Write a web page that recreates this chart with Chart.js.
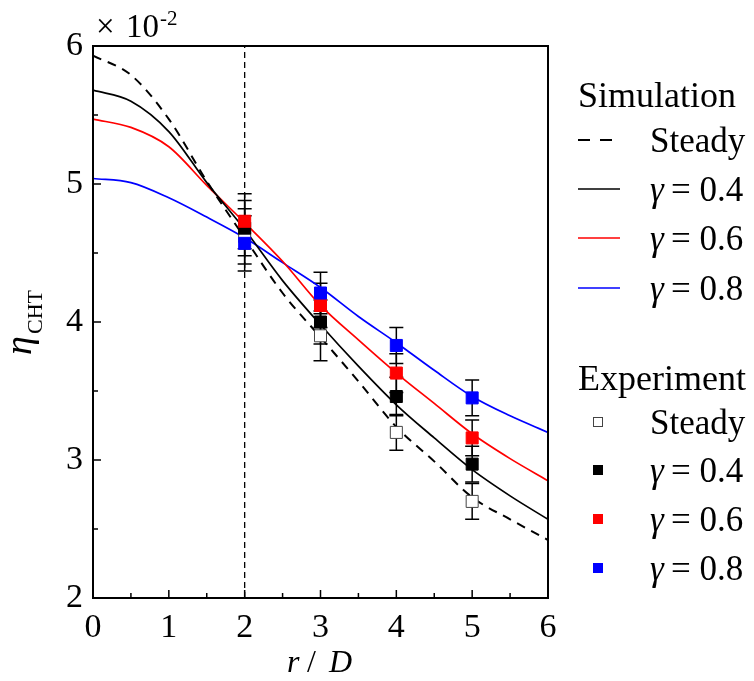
<!DOCTYPE html>
<html>
<head>
<meta charset="utf-8">
<script src="https://cdn.jsdelivr.net/npm/chart.js@4.4.0/dist/chart.umd.min.js"></script>
<style>
  body { margin: 0; background: #fff; }
  #wrap { width: 754px; height: 681px; }
</style>
</head>
<body>
<div id="wrap"><canvas id="chart" width="754" height="681"></canvas></div>
<script>
// simulated profiles along r/D
const radius = [0, 0.5, 1, 1.5, 2, 2.5, 3, 3.5, 4, 4.5, 5, 5.5, 6];
const simSteady = [5.93, 5.79, 5.47, 5.02, 4.61, 4.21, 3.89, 3.57, 3.24, 2.99, 2.73, 2.57, 2.42];
const simG04 = [5.68, 5.60, 5.38, 5.01, 4.67, 4.30, 3.98, 3.68, 3.40, 3.16, 2.93, 2.74, 2.57];
const simG06 = [5.47, 5.41, 5.27, 4.99, 4.72, 4.44, 4.12, 3.87, 3.63, 3.41, 3.19, 3.01, 2.85];
const simG08 = [5.04, 5.01, 4.90, 4.76, 4.61, 4.43, 4.25, 4.04, 3.85, 3.65, 3.46, 3.32, 3.20];

// measurements with error half-widths
const expRadius = [2, 3, 4, 5];
const expSteady = [4.62, 3.90, 3.20, 2.70];
const expG04 = [4.68, 4.00, 3.46, 2.97];
const expG06 = [4.73, 4.12, 3.63, 3.16];
const expG08 = [4.57, 4.21, 3.83, 3.45];
const errSteady = [0.20, 0.18, 0.13, 0.13];
const errG04 = [0.20, 0.16, 0.14, 0.13];
const errG06 = [0.20, 0.16, 0.14, 0.13];
const errG08 = [0.20, 0.15, 0.13, 0.13];

const markLine = [2, 2]; // x of the dashed marker line
const markSpan = [2, 6];

const xTicks = [0, 1, 2, 3, 4, 5, 6];
const yTicks = [2, 3, 4, 5, 6];

const serif = "'Liberation Serif', 'Times New Roman', serif";

function pts(xs, ys) {
  return xs.map((x, i) => ({ x: x, y: ys[i] }));
}

function simSet(label, ys, color, dash) {
  return {
    type: 'line', label: label, data: pts(radius, ys),
    borderColor: color, borderWidth: dash ? 2 : 1.7, borderDash: dash || [],
    pointRadius: 0, cubicInterpolationMode: 'monotone', fill: false, order: 5
  };
}

function expSet(label, ys, errs, fill, stroke) {
  return {
    type: 'scatter', label: label, data: pts(expRadius, ys), errors: errs,
    pointStyle: 'rect', pointRadius: 8.5, pointHoverRadius: 8.5,
    backgroundColor: fill, borderColor: stroke, borderWidth: 1, order: 1
  };
}

const datasets = [
  {
    type: 'line', label: 'marker', data: pts(markLine, markSpan),
    borderColor: '#000', borderWidth: 1.3, borderDash: [6, 4], pointRadius: 0, order: 6
  },
  simSet('Steady', simSteady, '#000', [9, 7]),
  simSet('γ = 0.4', simG04, '#000'),
  simSet('γ = 0.6', simG06, '#ff0000'),
  simSet('γ = 0.8', simG08, '#0000ff'),
  expSet('Steady', expSteady, errSteady, '#fff', '#444'),
  expSet('γ = 0.4', expG04, errG04, '#000', '#000'),
  expSet('γ = 0.6', expG06, errG06, '#ff0000', '#ff0000'),
  expSet('γ = 0.8', expG08, errG08, '#0000ff', '#0000ff')
];
// markers later in the list sit on top
datasets[5].order = 4; datasets[6].order = 3; datasets[7].order = 2; datasets[8].order = 1;

// error bars behind the square markers
const errorBars = {
  id: 'errorBars',
  beforeDatasetsDraw(chart) {
    const ctx = chart.ctx, xs = chart.scales.x, ys = chart.scales.y;
    ctx.save();
    ctx.strokeStyle = '#000';
    ctx.lineWidth = 1.5;
    chart.data.datasets.forEach(ds => {
      if (!ds.errors) return;
      ds.data.forEach((p, i) => {
        const px = xs.getPixelForValue(p.x);
        const top = ys.getPixelForValue(p.y + ds.errors[i]);
        const bot = ys.getPixelForValue(p.y - ds.errors[i]);
        ctx.beginPath();
        ctx.moveTo(px, top); ctx.lineTo(px, bot);
        ctx.moveTo(px - 7, top); ctx.lineTo(px + 7, top);
        ctx.moveTo(px - 7, bot); ctx.lineTo(px + 7, bot);
        ctx.stroke();
      });
    });
    ctx.restore();
  }
};

// frame, inward ticks, axis titles and grouped legend
const decorations = {
  id: 'decorations',
  afterDraw(chart) {
    const ctx = chart.ctx, a = chart.chartArea;
    const xs = chart.scales.x, ys = chart.scales.y;
    ctx.save();
    ctx.strokeStyle = '#000';
    ctx.lineWidth = 2;
    ctx.strokeRect(a.left, a.top, a.right - a.left, a.bottom - a.top);

    ctx.lineWidth = 1.5;
    ctx.beginPath();
    for (let v = xs.min; v <= xs.max + 1e-9; v += 0.5) {
      const px = xs.getPixelForValue(v), len = Number.isInteger(v) ? 8 : 5;
      ctx.moveTo(px, a.bottom); ctx.lineTo(px, a.bottom - len);
    }
    for (let v = ys.min; v <= ys.max + 1e-9; v += 0.5) {
      const py = ys.getPixelForValue(v), len = Number.isInteger(v) ? 8 : 5;
      ctx.moveTo(a.left, py); ctx.lineTo(a.left + len, py);
    }
    ctx.stroke();

    ctx.fillStyle = '#000';
    ctx.textBaseline = 'alphabetic';
    ctx.textAlign = 'left';

    // scale factor above the y axis
    ctx.font = '33px ' + serif;
    ctx.fillText('×', 96, 37);
    ctx.fillText('10', 126, 37);
    ctx.font = '21px ' + serif;
    ctx.fillText('-2', 160, 25);

    // x axis title
    ctx.font = 'italic 32px ' + serif;
    ctx.fillText('r', 287, 672);
    ctx.font = '32px ' + serif;
    ctx.fillText('/', 307, 672);
    ctx.font = 'italic 32px ' + serif;
    ctx.fillText('D', 329, 672);

    // y axis title
    ctx.save();
    ctx.translate(31, 355);
    ctx.rotate(-Math.PI / 2);
    ctx.font = 'italic 38px ' + serif;
    ctx.fillText('η', 0, 0);
    ctx.font = '22px ' + serif;
    ctx.fillText('CHT', 21, 11);
    ctx.restore();

    // legend
    const sims = chart.data.datasets.slice(1, 5);
    const exps = chart.data.datasets.slice(5, 9);
    const rowsSim = [140, 189, 238, 288];
    const rowsExp = [422, 470, 519, 568];

    function label(text, y) {
      if (text.startsWith('γ')) {
        ctx.font = 'italic 35px ' + serif;
        ctx.fillText('γ', 650, y + 12);
        ctx.font = '35px ' + serif;
        ctx.fillText('= ' + text.split('= ')[1], 671, y + 12);
      } else {
        ctx.font = '35px ' + serif;
        ctx.fillText(text, 650, y + 12);
      }
    }

    ctx.font = '36px ' + serif;
    ctx.fillText('Simulation', 578, 107);
    sims.forEach((ds, i) => {
      const y = rowsSim[i];
      ctx.strokeStyle = ds.borderColor;
      ctx.lineWidth = ds.borderWidth;
      ctx.setLineDash(ds.borderDash.length ? [12, 10] : []);
      ctx.beginPath();
      ctx.moveTo(578, y); ctx.lineTo(620, y);
      ctx.stroke();
      ctx.setLineDash([]);
      label(ds.label, y);
    });

    ctx.font = '36px ' + serif;
    ctx.fillText('Experiment', 578, 390);
    exps.forEach((ds, i) => {
      const y = rowsExp[i];
      ctx.fillStyle = ds.backgroundColor;
      ctx.fillRect(593, y - 5, 10, 10);
      ctx.strokeStyle = ds.borderColor;
      ctx.lineWidth = 1;
      ctx.strokeRect(593.5, y - 4.5, 9, 9);
      ctx.fillStyle = '#000';
      label(ds.label, y);
    });
    ctx.restore();
  }
};

new Chart(document.getElementById('chart'), {
  data: { datasets: datasets },
  options: {
    responsive: false,
    animation: false,
    layout: { padding: { left: 0, right: 206, top: 46, bottom: 0 } },
    plugins: { legend: { display: false }, tooltip: { enabled: false } },
    scales: {
      x: {
        type: 'linear', min: 0, max: 6,
        afterBuildTicks: s => { s.ticks = xTicks.map(v => ({ value: v })); },
        afterFit: s => { s.height = 83; },
        grid: { display: false, drawTicks: false },
        border: { display: false },
        ticks: { color: '#000', padding: 10, font: { family: serif, size: 34 } }
      },
      y: {
        type: 'linear', min: 2, max: 6,
        afterBuildTicks: s => { s.ticks = yTicks.map(v => ({ value: v })); },
        afterFit: s => { s.width = 93; },
        grid: { display: false, drawTicks: false },
        border: { display: false },
        ticks: { color: '#000', padding: 10, font: { family: serif, size: 34 } }
      }
    }
  },
  plugins: [errorBars, decorations]
});
</script>
</body>
</html>
